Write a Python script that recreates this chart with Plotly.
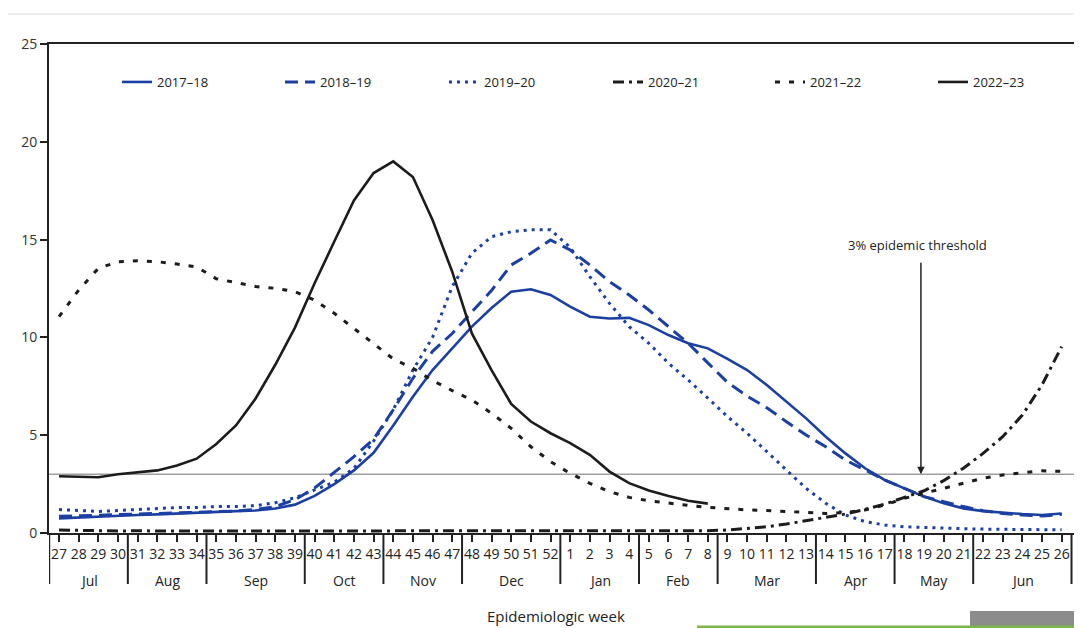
import plotly.graph_objects as go

# ---------------- data ----------------
weeks = list(range(27, 53)) + list(range(1, 27))
months = ["Jul", "Aug", "Sep", "Oct", "Nov", "Dec", "Jan", "Feb", "Mar", "Apr", "May", "Jun"]
month_weeks = [4, 4, 5, 4, 4, 5, 4, 4, 5, 4, 4, 5]

season_names = ["2017\u201318", "2018\u201319", "2019\u201320", "2020\u201321", "2021\u201322", "2022\u201323"]

s2017_18 = [0.75, 0.8, 0.85, 0.88, 0.92, 0.95, 1.0, 1.05, 1.08, 1.12, 1.15, 1.25, 1.45, 1.9, 2.5, 3.2, 4.1,
            5.5, 6.97, 8.33, 9.44, 10.55, 11.5, 12.34, 12.46, 12.17, 11.57, 11.06, 10.97, 11.0, 10.63, 10.12,
            9.7, 9.44, 8.9, 8.33, 7.57, 6.71, 5.86, 4.92, 4.07, 3.31, 2.71, 2.28, 1.86, 1.52, 1.26, 1.12,
            1.04, 0.97, 0.92, 1.0]
s2018_19 = [0.85, 0.88, 0.9, 0.92, 0.95, 1.0, 1.02, 1.05, 1.1, 1.12, 1.2, 1.35, 1.7, 2.3, 3.1, 3.9, 4.8,
            6.3, 7.91, 9.29, 10.2, 11.3, 12.4, 13.7, 14.3, 14.98, 14.47, 13.7, 12.85, 12.17, 11.4, 10.55,
            9.7, 8.7, 7.7, 7.0, 6.4, 5.69, 5.01, 4.41, 3.73, 3.22, 2.71, 2.28, 1.86, 1.6, 1.35, 1.14,
            1.0, 0.92, 0.87, 0.95]
s2019_20 = [1.2, 1.15, 1.1, 1.15, 1.2, 1.25, 1.3, 1.3, 1.35, 1.35, 1.4, 1.55, 1.8, 2.2, 2.6, 3.3, 4.7,
            6.3, 8.33, 10.0, 12.6, 14.3, 15.15, 15.4, 15.5, 15.5, 14.6, 13.1, 11.74, 10.55, 9.7, 8.68,
            7.82, 6.9, 5.95, 5.1, 4.16, 3.22, 2.28, 1.52, 0.92, 0.58, 0.41, 0.32, 0.28, 0.25, 0.22, 0.2,
            0.2, 0.18, 0.17, 0.16]
s2020_21 = [0.15, 0.15, 0.12, 0.1, 0.12, 0.1, 0.1, 0.1, 0.1, 0.1, 0.1, 0.1, 0.1, 0.1, 0.1, 0.1, 0.1,
            0.1, 0.1, 0.1, 0.1, 0.12, 0.12, 0.1, 0.1, 0.1, 0.1, 0.1, 0.1, 0.1, 0.1, 0.1, 0.12, 0.12,
            0.15, 0.24, 0.32, 0.46, 0.63, 0.8, 0.97, 1.21, 1.48, 1.82, 2.16, 2.68, 3.31, 4.07, 4.92,
            6.03, 7.57, 9.53]
s2021_22 = [11.06, 12.42, 13.53, 13.87, 13.92, 13.87, 13.75, 13.6, 13.0, 12.8, 12.6, 12.51, 12.34, 11.9,
            11.23, 10.46, 9.7, 8.9, 8.42, 7.79, 7.28, 6.8, 6.12, 5.35, 4.41, 3.65, 3.05, 2.54, 2.11, 1.82,
            1.65, 1.52, 1.41, 1.31, 1.23, 1.18, 1.15, 1.09, 1.04, 1.0, 1.04, 1.18, 1.43, 1.77, 2.03, 2.28,
            2.54, 2.8, 2.97, 3.08, 3.18, 3.15]
s2022_23 = [2.9, 2.88, 2.85, 3.0, 3.1, 3.2, 3.45, 3.8, 4.55, 5.5, 6.88, 8.6, 10.5, 12.77, 14.9, 17.0,
            18.4, 19.0, 18.2, 16.0, 13.36, 10.2, 8.33, 6.6, 5.7, 5.1, 4.6, 4.0, 3.14, 2.55, 2.17, 1.89,
            1.65, 1.5]

threshold = 3.0
y_ticks = [0, 5, 10, 15, 20, 25]

# ---------------- styles ----------------
BLUE = "#1b3fa3"
BLACK = "#1c1c1c"
styles = [
    dict(color=BLUE, width=2.6, dash="solid"),
    dict(color=BLUE, width=3, dash="13px,7px"),
    dict(color=BLUE, width=3, dash="3px,5px"),
    dict(color=BLACK, width=3, dash="11px,5px,3px,5px"),
    dict(color=BLACK, width=3, dash="5px,9px"),
    dict(color=BLACK, width=2.6, dash="solid"),
]
series = [s2017_18, s2018_19, s2019_20, s2020_21, s2021_22, s2022_23]

FONT = "Open Sans"
TXT = "#222222"

# geometry helpers: the page body has an 8px margin, so the figure is sized to fit the window
OFF = 8
W, H = 1082 - OFF, 628 - OFF
L, R, T, B = 41, 4, 36, 95
plot_h = H - T - B
plot_w = W - L - R

def py2paper(py):  # window pixel -> paper
    return (H - B - (py - OFF)) / plot_h

def px2paper(px):  # window pixel -> paper
    return (px - OFF - L) / plot_w

legend_ids = ["legend", "legend2", "legend3", "legend4", "legend5", "legend6"]
legend_text_x = [157, 320, 484, 648, 810, 973]

fig = go.Figure()
for name, vals, st, lid in zip(season_names, series, styles, legend_ids):
    fig.add_trace(go.Scatter(
        x=list(range(len(vals))), y=vals, mode="lines", name=name,
        line=st, hoverinfo="skip", legend=lid,
    ))

legend_layout = {}
for lid, tx in zip(legend_ids, legend_text_x):
    legend_layout[lid] = dict(
        x=px2paper(tx - 40), y=py2paper(82), xanchor="left", yanchor="middle",
        orientation="h", font=dict(family=FONT, size=13, color=TXT),
        bgcolor="rgba(0,0,0,0)", borderwidth=0, itemclick=False, itemdoubleclick=False,
    )

shapes = []
annotations = []

# threshold line
shapes.append(dict(type="line", xref="paper", yref="y", x0=0, x1=1, y0=threshold, y1=threshold,
                   line=dict(color="#a0a0a0", width=1.5), layer="below"))

# month dividers and labels
start = -0.5
div_bottom = py2paper(584)
shapes.append(dict(type="line", xref="x", yref="paper", x0=start, x1=start, y0=0, y1=div_bottom,
                   line=dict(color=TXT, width=2)))
for m, n in zip(months, month_weeks):
    end = start + n
    shapes.append(dict(type="line", xref="x", yref="paper", x0=end, x1=end, y0=0, y1=div_bottom,
                       line=dict(color=TXT, width=2)))
    annotations.append(dict(x=(start + end) / 2, y=py2paper(580), xref="x", yref="paper", text=m,
                            showarrow=False, font=dict(family=FONT, size=14, color=TXT),
                            xanchor="center", yanchor="middle"))
    start = end

# axis title
annotations.append(dict(x=px2paper(556), y=py2paper(616), xref="paper", yref="paper",
                        text="Epidemiologic week", showarrow=False,
                        font=dict(family=FONT, size=15, color=TXT), xanchor="center", yanchor="middle"))

# threshold annotation: arrow + text
annotations.append(dict(x=43.84, y=threshold, xref="x", yref="y", text="",
                        showarrow=True, arrowhead=2, arrowsize=1, arrowwidth=1.5, arrowcolor=TXT,
                        ax=0, ay=-(474 - 261)))
annotations.append(dict(x=px2paper(917), y=py2paper(245), xref="paper", yref="paper",
                        text="3% epidemic threshold", showarrow=False, xanchor="center", yanchor="middle",
                        font=dict(family=FONT, size=13, color=TXT)))

# slide decorations (not data)
shapes.append(dict(type="line", xref="paper", yref="paper", x0=px2paper(OFF), x1=px2paper(1082),
                   y0=py2paper(14), y1=py2paper(14), line=dict(color="#eeeeee", width=2)))
shapes.append(dict(type="rect", xref="paper", yref="paper", x0=px2paper(970), x1=px2paper(1082),
                   y0=py2paper(628), y1=py2paper(611), fillcolor="#8c8c8c", line=dict(width=0)))
shapes.append(dict(type="line", xref="paper", yref="paper", x0=px2paper(697), x1=px2paper(1082),
                   y0=py2paper(627), y1=py2paper(627), line=dict(color="#7ab648", width=3)))

fig.update_layout(
    width=W, height=H,
    margin=dict(l=L, r=R, t=T, b=B, pad=0, autoexpand=False),
    paper_bgcolor="white", plot_bgcolor="white",
    font=dict(family=FONT, size=13, color=TXT),
    showlegend=True,
    shapes=shapes,
    annotations=annotations,
    xaxis=dict(range=[-0.51, 51.83], tickmode="array", tickvals=list(range(len(weeks))),
               ticktext=[str(w) for w in weeks], ticks="outside", ticklen=7, tickwidth=1.5,
               tickcolor=TXT, showline=True, linecolor=TXT, linewidth=2, mirror=True,
               showgrid=False, zeroline=False, tickangle=0, automargin=False,
               tickfont=dict(family=FONT, size=14, color=TXT)),
    yaxis=dict(range=[0, 25], tickmode="array", tickvals=y_ticks, ticks="outside", ticklen=7,
               tickwidth=1.5, tickcolor=TXT, showline=True, linecolor=TXT, linewidth=2, mirror=True,
               showgrid=False, zeroline=False, automargin=False,
               tickfont=dict(family=FONT, size=14, color="#333333")),
    **legend_layout,
)

fig.write_html("out.html")
